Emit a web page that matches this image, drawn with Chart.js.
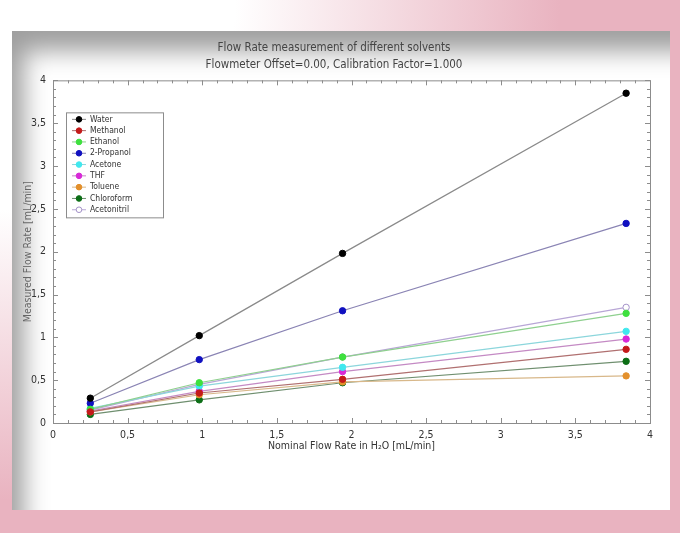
<!DOCTYPE html>
<html>
<head>
<meta charset="utf-8">
<script src="https://cdn.jsdelivr.net/npm/chart.js@4.4.0/dist/chart.umd.min.js"></script>
<style>
  html, body { margin: 0; padding: 0; }
  body {
    width: 680px; height: 533px; overflow: hidden; position: relative;
    background: radial-gradient(ellipse 560px 500px at 0 0, #ffffff 42%, #e9b3c0 100%);
    background-color: #e8b1be;
  }
  #panel {
    position: absolute; left: 12px; top: 31px; width: 658px; height: 479px;
    background: #fff;
    box-shadow: inset 22px 30px 24px -10px rgba(0,0,0,0.38);
  }
  #wrap { position: absolute; left: 0; top: 0; width: 680px; height: 533px; }
</style>
</head>
<body>
<div id="panel"></div>
<div id="wrap"><canvas id="myChart"></canvas></div>
<script>
// nominal flow rates (x)
var nominal = [0.25, 0.98, 1.94, 3.84];

var water      = [0.29, 1.02, 1.98, 3.85];
var methanol   = [0.13, 0.35, 0.51, 0.86];
var ethanol    = [0.16, 0.47, 0.77, 1.28];
var propanol   = [0.23, 0.74, 1.31, 2.33];
var acetone    = [0.17, 0.43, 0.65, 1.07];
var thf        = [0.14, 0.37, 0.60, 0.98];
var toluene    = [0.13, 0.33, 0.48, 0.55];
var chloroform = [0.10, 0.27, 0.47, 0.72];
var acetonitril = [0.15, 0.45, 0.77, 1.35];

var names = ["Water", "Methanol", "Ethanol", "2-Propanol", "Acetone", "THF", "Toluene", "Chloroform", "Acetonitril"];
var values = [water, methanol, ethanol, propanol, acetone, thf, toluene, chloroform, acetonitril];
var dotColors = ["#000000", "#c41a1a", "#3ee03e", "#1010c0", "#40e8ee", "#d82ad8", "#e3902c", "#0c6e16", "#ffffff"];
var lineColors = ["#8a8a8a", "#b07070", "#8fd08f", "#8a84b4", "#8cd6dc", "#c48ac4", "#d8b88a", "#6f8f6f", "#b8a6d6"];

var xTicks = [0, 0.5, 1, 1.5, 2, 2.5, 3, 3.5, 4];
var yTicks = [0, 0.5, 1, 1.5, 2, 2.5, 3, 3.5, 4];

var datasets = [];
for (var i = 0; i < names.length; i++) {
  var pts = [];
  for (var j = 0; j < nominal.length; j++) pts.push({x: nominal[j], y: values[i][j]});
  datasets.push({
    label: names[i],
    data: pts,
    borderColor: lineColors[i],
    borderWidth: 1.2,
    pointBackgroundColor: dotColors[i],
    pointBorderColor: i == 8 ? "#a493c8" : dotColors[i],
    pointBorderWidth: 1,
    pointRadius: 3.2,
    fill: false,
    tension: 0
  });
}

function comma(v) { return String(v).replace(".", ","); }

var fontFam = "'Liberation Sans Narrow', 'DejaVu Sans Condensed', 'Liberation Sans', sans-serif";

// box, inward ticks and legend inside the plot
var framePlugin = {
  id: "frame",
  afterDatasetsDraw: function(chart) {
    var ctx = chart.ctx, a = chart.chartArea;
    var xs = chart.scales.x, ys = chart.scales.y;
    ctx.save();
    ctx.strokeStyle = "#8c8c8c";
    ctx.lineWidth = 1;
    ctx.strokeRect(a.left + 0.5, a.top + 0.5, a.right - a.left, a.bottom - a.top);
    ctx.beginPath();
    for (var k = 0; k <= 40; k++) {
      var v = k / 10;
      var len = (k % 5 == 0) ? 5 : 3;
      var px = Math.round(xs.getPixelForValue(v)) + 0.5;
      ctx.moveTo(px, a.bottom); ctx.lineTo(px, a.bottom - len);
      ctx.moveTo(px, a.top); ctx.lineTo(px, a.top + len);
      var py = Math.round(ys.getPixelForValue(v)) + 0.5;
      ctx.moveTo(a.left, py); ctx.lineTo(a.left + len, py);
      ctx.moveTo(a.right, py); ctx.lineTo(a.right - len, py);
    }
    ctx.stroke();

    // legend
    var lx = a.left + 13, ly = a.top + 32, lw = 97, lh = 105;
    ctx.fillStyle = "#fff";
    ctx.fillRect(lx, ly, lw, lh);
    ctx.strokeStyle = "#8c8c8c";
    ctx.strokeRect(lx + 0.5, ly + 0.5, lw, lh);
    ctx.font = "8.5px " + fontFam;
    ctx.textBaseline = "middle";
    for (var i = 0; i < chart.data.datasets.length; i++) {
      var ds = chart.data.datasets[i];
      var cy = ly + 7 + i * 11.3;
      ctx.strokeStyle = ds.borderColor;
      ctx.beginPath();
      ctx.moveTo(lx + 6, cy); ctx.lineTo(lx + 20, cy);
      ctx.stroke();
      ctx.beginPath();
      ctx.arc(lx + 13, cy, 2.8, 0, Math.PI * 2);
      ctx.fillStyle = ds.pointBackgroundColor;
      ctx.fill();
      ctx.strokeStyle = ds.pointBorderColor;
      ctx.stroke();
      ctx.fillStyle = "#333";
      ctx.fillText(ds.label, lx + 24, cy);
    }
    ctx.restore();
  }
};

new Chart("myChart", {
  type: "line",
  data: { datasets: datasets },
  plugins: [framePlugin],
  options: {
    responsive: true,
    maintainAspectRatio: false,
    animation: false,
    layout: { padding: { left: 18, right: 30, top: 40, bottom: 80 } },
    plugins: {
      legend: { display: false },
      tooltip: { enabled: false },
      title: {
        display: true,
        text: ["Flow Rate measurement of different solvents", "Flowmeter Offset=0.00, Calibration Factor=1.000"],
        color: "#444",
        font: { family: fontFam, size: 11.5, weight: "normal", lineHeight: 1.45 },
        padding: { top: 0, bottom: 7 }
      }
    },
    scales: {
      x: {
        type: "linear",
        min: 0, max: 4,
        afterFit: function(s) { s.height = 30; },
        afterBuildTicks: function(s) { s.ticks = xTicks.map(function(v) { return {value: v}; }); },
        ticks: { callback: function(v) { return comma(v); }, color: "#333", padding: 6,
                 font: { family: fontFam, size: 10.5 } },
        grid: { display: false, drawTicks: false, tickLength: 0 },
        border: { display: false },
        title: { display: true, text: "Nominal Flow Rate in H\u2082O [mL/min]", color: "#333", padding: { top: 0, bottom: 0 },
                 font: { family: fontFam, size: 10.5 } }
      },
      y: {
        type: "linear",
        min: 0, max: 4,
        afterFit: function(s) { s.width = 35; },
        afterBuildTicks: function(s) { s.ticks = yTicks.map(function(v) { return {value: v}; }); },
        ticks: { callback: function(v) { return comma(v); }, color: "#333", padding: 7,
                 font: { family: fontFam, size: 10.5 } },
        grid: { display: false, drawTicks: false, tickLength: 0 },
        border: { display: false },
        title: { display: true, text: "Measured Flow Rate [mL/min]", color: "#666", padding: { top: 4, bottom: 0 },
                 font: { family: fontFam, size: 10.5 } }
      }
    }
  }
});
</script>
</body>
</html>
